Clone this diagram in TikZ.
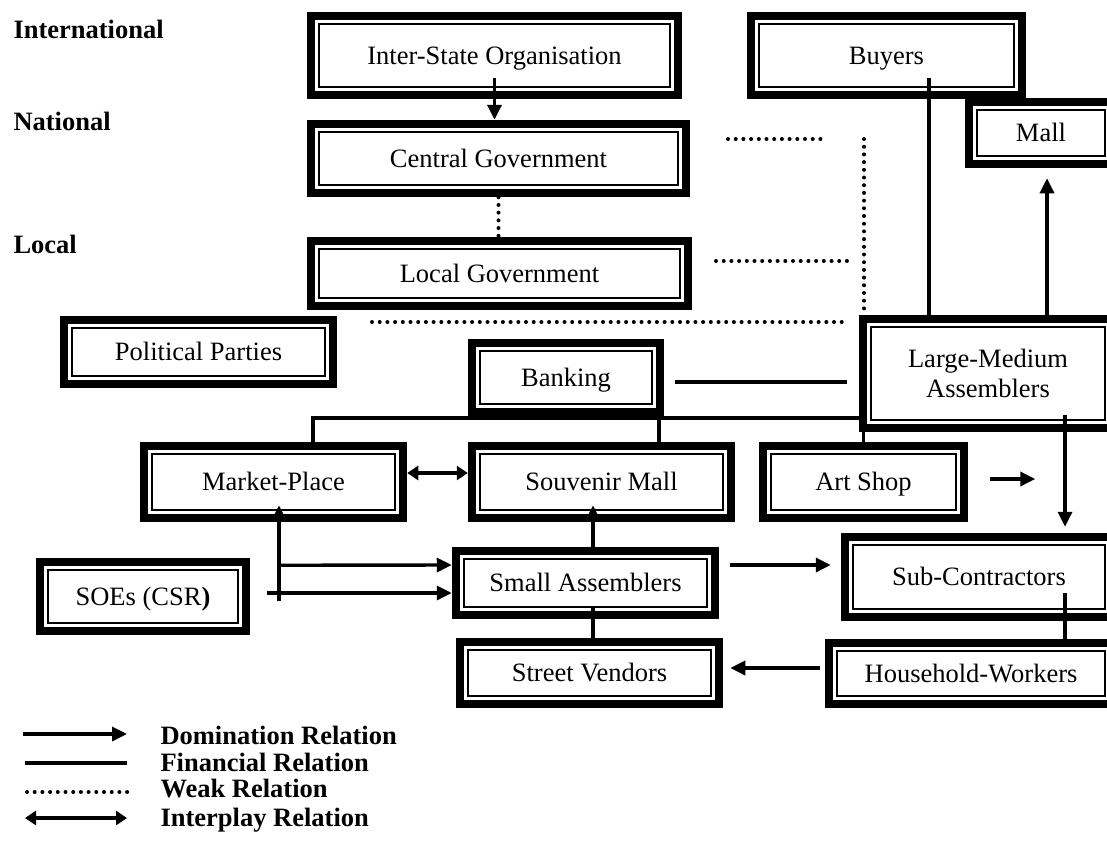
\documentclass[tikz,border=0pt]{standalone}
\usepackage{fontspec}
\setmainfont{Liberation Serif}
\usetikzlibrary{arrows.meta,calc}
\newcommand{\diagfont}{\fontsize{26.5}{30.5}\selectfont}
\tikzset{
    tier/.style={draw, line width=8.5pt, inner sep=0pt, text height=17.5pt, text depth=0pt,
        path picture={\draw[line width=2.2pt] ([shift={(7.8pt,7.8pt)}]path picture bounding box.south west) rectangle ([shift={(-7.8pt,-7.8pt)}]path picture bounding box.north east);}},
    dom/.style={line width=3.4pt, -{Triangle[length=15pt,width=14pt]}},
    fin/.style={line width=3.4pt},
    weak/.style={line width=4pt, line cap=round, dash pattern=on 0pt off 7.7pt},
    inter/.style={line width=3.4pt, {Triangle[length=11pt,width=14pt]}-{Triangle[length=11pt,width=14pt]}},
    level/.style={font=\diagfont\bfseries, anchor=base west}
}

\begin{document}
\begin{tikzpicture}[x=1pt, y=-1pt, font=\diagfont]
    \useasboundingbox (0,0) rectangle (1107,841);
    % levels
    \node[level] (lint) at (10,38) {International};
    \node[level] (lnat) at (10,130) {National};
    \node[level] (lloc) at (10,253) {Local};
    % actors
    \node[tier, minimum width=367pt, minimum height=79pt] (intstate) at (494.5,55.5) {Inter-State Organisation};
    \node[tier, minimum width=271pt, minimum height=79pt] (buyers) at (886.5,55.5) {Buyers};
    \node[tier, minimum width=144pt, minimum height=62pt] (mall) at (1041,133) {Mall};
    \node[tier, minimum width=375pt, minimum height=69pt] (central) at (498.5,158.5) {Central Government};
    \node[tier, minimum width=377pt, minimum height=65pt] (localgov) at (499.5,273.5) {Local Government};
    \node[tier, minimum width=269pt, minimum height=64pt] (parties) at (198.5,352) {Political Parties};
    \node[tier, minimum width=188pt, minimum height=69pt] (banking) at (566,377.5) {Banking};
    \node[tier, minimum width=250pt, minimum height=109pt, align=center, text height=, text depth=] (lma) at (988,373.5) {Large-Medium\\Assemblers};
    \node[tier, minimum width=259pt, minimum height=72pt] (market) at (273.5,482) {Market-Place};
    \node[tier, minimum width=259pt, minimum height=72pt] (souvenir) at (601.5,482) {Souvenir Mall};
    \node[tier, minimum width=201pt, minimum height=72pt] (artshop) at (863.5,482) {Art Shop};
    \node[tier, minimum width=206pt, minimum height=69pt] (soes) at (143,596.5) {SOEs (CSR\textbf{)}};
    \node[tier, minimum width=259pt, minimum height=64pt] (small) at (585.5,583) {Small Assemblers};
    \node[tier, minimum width=268pt, minimum height=80pt] (subcon) at (979,577) {Sub-Contractors};
    \node[tier, minimum width=259pt, minimum height=62pt] (vendors) at (589.5,673) {Street Vendors};
    \node[tier, minimum width=284pt, minimum height=61pt] (household) at (971,673.5) {Household-Workers};
    % domination
    \draw[dom] ($(intstate.south)+(0,-21)$) -- (intstate.south |- central.north);
    \draw[dom] ($(lma.north)+(59,0)$) -- ($(mall.south)+(6,10)$);
    \draw[dom] ($(lma.south)+(77,-17)$) -- ($(subcon.north)+(86,-6)$);
    \draw[dom] ($(artshop.east)+(22,-3)$) -- ($(artshop.east)+(67,-3)$);
    \draw[dom] ($(small.north)+(7.5,0)$) -- ($(souvenir.south)+(-8.5,-17)$);
    \coordinate (hub) at ($(market.south)+(5.5,79)$);
    \draw[dom] (hub) -- ($(market.south)+(5.5,-17)$);
    \draw[dom] ($(market.south)+(5.5,43)$) -- ($(small.west)+(0,-18)$);
    \draw[dom] ($(soes.east)+(17,-3.5)$) -- ($(small.west)+(0,10)$);
    \draw[dom] ($(small.east)+(11,-18)$) -- ($(subcon.west)+(-10,-12)$);
    \draw[dom] ($(household.west)+(-5,-5.5)$) -- ($(vendors.east)+(7,-5)$);
    % financial
    \draw[fin] ($(buyers.south)+(42.5,-21)$) coordinate (b1) -- (b1 |- lma.north);
    \draw[fin] ($(banking.east)+(11,4.5)$) -- ($(banking.east -| lma.west)+(-12,4.5)$);
    \draw[fin] ($(market.north)+(39.5,0)$) |- ($(lma.west)+(0,44.5)$);
    \draw[fin] ($(souvenir.north)+(57.5,0)$) -- ++(0,-24);
    \draw[fin] (artshop.north) -- (artshop.north |- lma.south);
    \draw[fin] ($(small.south)+(7.5,-13)$) -- ($(vendors.north)+(3.5,0)$);
    \draw[fin] ($(subcon.south)+(86,-28)$) -- ($(household.north)+(94,0)$);
    % interplay
    \draw[inter] ($(market.east)+(0,-9)$) -- ($(souvenir.west)+(0,-9)$);
    % weak
    \coordinate (wa) at (728,139);
    \coordinate (wb) at (826,139);
    \coordinate (wc) at (716,261);
    \coordinate (wd) at (847,261);
    \coordinate (we) at (372,322);
    \coordinate (wf) at (847,322);
    \coordinate (wg) at (864,139);
    \draw[weak] (central.south) -- (central.south |- localgov.north);
    \draw[weak] (wa) -- (wb);
    \draw[weak] (wc) -- (wd);
    \draw[weak] (we) -- (wf);
    \draw[weak] (wg) -- (wg |- lma.north);
    % legend
    \coordinate (k1) at (23,734);
    \coordinate (k2) at (25,763);
    \coordinate (k3) at (27,792);
    \coordinate (k4) at (25,818);
    \draw[dom] (k1) -- ++(104,0);
    \draw[fin] (k2) -- ++(102,0);
    \draw[weak] (k3) -- ++(105,0);
    \draw[inter] (k4) -- ++(102,0);
    \node[level] (kdom) at (157,744) {Domination Relation};
    \node[level] (kfin) at (157,771) {Financial Relation};
    \node[level] (kweak) at (157,797) {Weak Relation};
    \node[level] (kint) at (157,826) {Interplay Relation};
\end{tikzpicture}
\end{document}
